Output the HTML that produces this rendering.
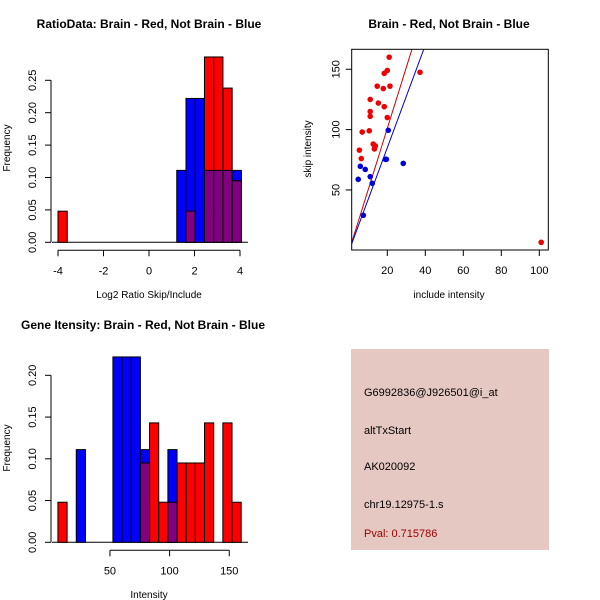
<!DOCTYPE html>
<html><head><meta charset="utf-8"><style>
body{margin:0;background:#fff;}
svg{display:block;font-family:"Liberation Sans",Arial,sans-serif;}
</style></head><body>
<svg id="s" width="600" height="600">
<rect width="600" height="600" fill="#fff"/>
</svg>
<script>
// ---- Panel 1: RatioData histogram
const ratioRedBinStarts = [-4.0, 1.22, 1.626, 2.032, 2.438, 2.844, 3.25, 3.656];
const ratioRedFreq = [0.048, 0, 0.048, 0, 0.286, 0.286, 0.238, 0.095];
const ratioBlueBinStarts = [1.22, 1.626, 2.032, 2.438, 2.844, 3.25, 3.656];
const ratioBlueFreq = [0.111, 0.222, 0.222, 0.111, 0.111, 0.111, 0.111];
const ratioBinWidth = 0.406;
const ratioXTicks = [-4, -2, 0, 2, 4];
const ratioYTicks = ["0.00", "0.05", "0.10", "0.15", "0.20", "0.25"];
// ---- Panel 2: scatter
const redInclude = [21,20,18.4,37.2,14.7,17.9,21.4,11,15.3,18.4,11,11,20,10.5,6.8,12.6,13.7,13.2,5.3,6.3,101];
const redSkip = [160,149,146.6,147.5,136,134,136,125,122,119,115,111,110,99,98,88,86.5,84,83,76,6.6];
const blueInclude = [20.5,28.4,19,19.5,5.8,8.4,11,4.7,12.1,7.4];
const blueSkip = [99.4,72,75.4,75.4,69.6,67,61,58.8,55.5,29];
const redSlope = 5.05, blueSlope = 4.25;
const scatterXTicks = [20, 40, 60, 80, 100];
const scatterYTicks = [50, 100, 150];
// ---- Panel 3: Gene intensity histogram
const geneBinStart = 6.4, geneBinWidth = 7.68;
const geneRedFreq = [0.048,0,0,0,0,0,0,0,0,0.095,0.143,0.048,0.048,0.095,0.095,0.095,0.143,0,0.143,0.048];
const geneBlueFreq = [0,0,0.111,0,0,0,0.222,0.222,0.222,0.111,0,0,0.111,0,0,0,0,0,0,0];
const geneXTicks = [50, 100, 150];
const geneYTicks = ["0.00", "0.05", "0.10", "0.15", "0.20"];
// ---- Panel 4: info text
const infoLines = ["G6992836@J926501@i_at", "altTxStart", "AK020092", "chr19.12975-1.s"];
const pvalText = "Pval: 0.715786";

const NS = "http://www.w3.org/2000/svg";
const svg = document.getElementById('s');
function mk(tag, attrs, parent, text) {
  const e = document.createElementNS(NS, tag);
  for (const k in attrs) e.setAttribute(k, attrs[k]);
  if (text !== undefined) e.textContent = text;
  (parent || svg).appendChild(e);
  return e;
}
function group(name) {
  const g = mk('g', {});
  
  
  return g;
}
function yAxis(g, ticks, ys, x) {
  mk('line', {x1: x, x2: x, y1: ys(+ticks[0]), y2: ys(+ticks[ticks.length - 1]), stroke: '#000'}, g);
  ticks.forEach(t => {
    const y = ys(+t);
    mk('line', {x1: x - 6, x2: x, y1: y, y2: y, stroke: '#000'}, g);
    const tx = mk('text', {x: x - 18, y: y, 'font-size': 11, 'text-anchor': 'middle', 'dominant-baseline': 'central', transform: `rotate(-90 ${x - 18} ${y})`}, g, t);
    
    
  });
}
function xAxis(g, ticks, xs, y) {
  mk('line', {x1: xs(ticks[0]), x2: xs(ticks[ticks.length - 1]), y1: y, y2: y, stroke: '#000'}, g);
  ticks.forEach(t => {
    const x = xs(t);
    mk('line', {x1: x, x2: x, y1: y, y2: y + 6, stroke: '#000'}, g);
    const tx = mk('text', {x: x, y: y + 24, 'font-size': 11, 'text-anchor': 'middle'}, g, String(t));
    
    
  });
}
function bar(g, x0, x1, ys, h, fill, name) {
  const r = mk('rect', {x: x0, y: ys(h), width: x1 - x0, height: ys(0) - ys(h), fill: fill, stroke: '#000', 'stroke-width': 1}, g);
  
  
}
function title(text, x, y) {
  const t = mk('text', {x: x, y: y, 'font-size': 12, 'font-weight': 'bold', 'text-anchor': 'middle'}, svg, text);
  
  
}
function label(text, x, y, rot) {
  const a = {x: x, y: y, 'font-size': 10, 'text-anchor': 'middle'};
  if (rot) a.transform = `rotate(-90 ${x} ${y})`;
  const t = mk('text', a, svg, text);
  
  
}

// Panel 1
(function () {
  const g = group('ratio-histogram');
  const xs = v => 58 + (v + 4) * 22.75;
  const ys = v => 242.3 - v * 648;
  mk('line', {x1: 52, x2: 248, y1: ys(0), y2: ys(0), stroke: '#000'}, g);
  ratioRedBinStarts.forEach((s, i) => { if (ratioRedFreq[i] > 0) bar(g, xs(s), xs(s + ratioBinWidth), ys, ratioRedFreq[i], '#ff0000', 'red-bar'); });
  ratioBlueBinStarts.forEach((s, i) => {
    if (ratioBlueFreq[i] <= 0) return;
    const j = ratioRedBinStarts.findIndex(r => Math.abs(r - s) < 1e-6);
    const rh = j >= 0 ? ratioRedFreq[j] : 0;
    if (ratioBlueFreq[i] > rh) bar(g, xs(s), xs(s + ratioBinWidth), ys, ratioBlueFreq[i], '#0000ff', 'blue-bar');
    const m = Math.min(rh, ratioBlueFreq[i]);
    if (m > 0) bar(g, xs(s), xs(s + ratioBinWidth), ys, m, '#800080', 'overlap-bar');
  });
  yAxis(g, ratioYTicks, ys, 51);
  xAxis(g, ratioXTicks, xs, 250.3);
  title('RatioData: Brain - Red, Not Brain - Blue', 149, 28);
  label('Log2 Ratio Skip/Include', 149, 298, false);
  label('Frequency', 10, 148, true);
})();

// Panel 2
(function () {
  const g = group('scatter-plot');
  const xs = v => 349.3 + v * 1.9;
  const ys = v => 250.3 - v * 1.207;
  const L = 351.7, R = 548.3, T = 49.3, B = 250;
  mk('clipPath', {id: 'cp'}, g);
  mk('rect', {x: L, y: T, width: R - L, height: B - T}, document.getElementById('cp'));
  [[redSlope, '#cc0000', 'red-fit-line'], [blueSlope, '#0000cc', 'blue-fit-line']].forEach(([k, c, n]) => {
    const x0 = 0, x1 = 60;
    const l = mk('line', {x1: xs(x0), y1: ys(k * x0), x2: xs(x1), y2: ys(k * x1), stroke: c, 'clip-path': 'url(#cp)'}, g);
    
    
  });
  redInclude.forEach((v, i) => {
    const c = mk('circle', {cx: xs(v), cy: ys(redSkip[i]), r: 2.8, fill: '#ee0000'}, g);
    
    
  });
  blueInclude.forEach((v, i) => {
    const c = mk('circle', {cx: xs(v), cy: ys(blueSkip[i]), r: 2.8, fill: '#0000dd'}, g);
    
    
  });
  mk('rect', {x: L, y: T, width: R - L, height: B - T, fill: 'none', stroke: '#000'}, g);
  scatterYTicks.forEach(t => {
    const y = ys(t);
    mk('line', {x1: L - 6, x2: L, y1: y, y2: y, stroke: '#000'}, g);
    const tx = mk('text', {x: L - 15, y: y, 'font-size': 11, 'text-anchor': 'middle', 'dominant-baseline': 'central', transform: `rotate(-90 ${L - 15} ${y})`}, g, String(t));
    
    
  });
  scatterXTicks.forEach(t => {
    const x = xs(t);
    mk('line', {x1: x, x2: x, y1: B, y2: B + 6, stroke: '#000'}, g);
    const tx = mk('text', {x: x, y: B + 24, 'font-size': 11, 'text-anchor': 'middle'}, g, String(t));
    
    
  });
  title('Brain - Red, Not Brain - Blue', 449, 28);
  label('include intensity', 449, 298, false);
  label('skip intensity', 311, 149, true);
})();

// Panel 3
(function () {
  const g = group('gene-intensity-histogram');
  const xs = v => 50.3 + v * 1.193;
  const ys = v => 542.3 - v * 835;
  mk('line', {x1: 52, x2: 248, y1: ys(0), y2: ys(0), stroke: '#000'}, g);
  geneRedFreq.forEach((h, i) => {
    const s = geneBinStart + i * geneBinWidth;
    if (h > 0) bar(g, xs(s), xs(s + geneBinWidth), ys, h, '#ff0000', 'red-bar');
  });
  geneBlueFreq.forEach((h, i) => {
    if (h <= 0) return;
    const s = geneBinStart + i * geneBinWidth;
    const rh = geneRedFreq[i];
    if (h > rh) bar(g, xs(s), xs(s + geneBinWidth), ys, h, '#0000ff', 'blue-bar');
    const m = Math.min(h, rh);
    if (m > 0) bar(g, xs(s), xs(s + geneBinWidth), ys, m, '#800080', 'overlap-bar');
  });
  yAxis(g, geneYTicks, ys, 51);
  xAxis(g, geneXTicks, xs, 550.3);
  title('Gene Itensity: Brain - Red, Not Brain - Blue', 143, 329);
  label('Intensity', 149, 598, false);
  label('Frequency', 10, 448, true);
})();

// Panel 4
(function () {
  const g = group('info-panel');
  mk('rect', {x: 351, y: 349, width: 198, height: 201, fill: '#e6c8c2'}, g);
  const ys = [396, 434, 470, 508];
  infoLines.forEach((t, i) => {
    const e = mk('text', {x: 364, y: ys[i], 'font-size': 11, fill: '#000'}, g, t);
    
    
  });
  const p = mk('text', {x: 364, y: 537, 'font-size': 11, fill: '#a00000'}, g, pvalText);
  
  
})();
</script>
</body></html>
